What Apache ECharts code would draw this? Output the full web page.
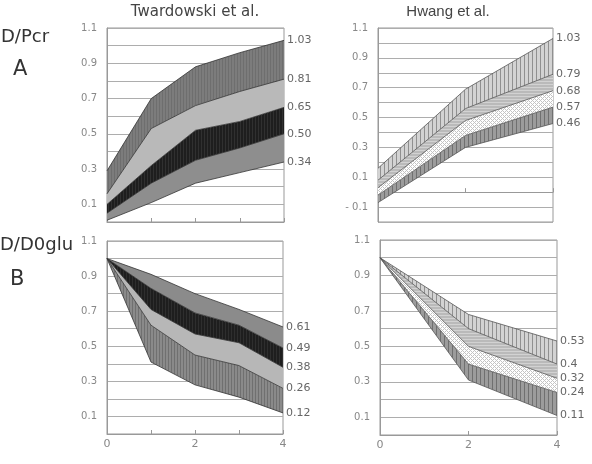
<!DOCTYPE html>
<html>
<head>
<meta charset="utf-8">
<script src="https://cdn.jsdelivr.net/npm/echarts/dist/echarts.min.js"></script>
<style>
  html, body { margin: 0; padding: 0; background: #fff; }
  #chart { width: 592px; height: 464px; }
</style>
</head>
<body>
<div id="chart"></div>
<script>
// x categories of the points
const twX = ["0", "1", "2", "3", "4"];
const hwX = ["0", "2", "4"];

// A: D/Pcr, lines from top to bottom
const twA1 = [0.29, 0.70, 0.88, 0.96, 1.03];
const twA2 = [0.16, 0.53, 0.66, 0.74, 0.81];
const twA3 = [0.10, 0.32, 0.52, 0.57, 0.65];
const twA4 = [0.05, 0.22, 0.35, 0.42, 0.50];
const twA5 = [0.01, 0.11, 0.22, 0.28, 0.34];
const twALabels = ["1.03", "0.81", "0.65", "0.50", "0.34"];

const hwA1 = [0.16, 0.69, 1.03];
const hwA2 = [0.08, 0.56, 0.79];
const hwA3 = [0.03, 0.48, 0.68];
const hwA4 = [-0.02, 0.38, 0.57];
const hwA5 = [-0.07, 0.30, 0.46];
const hwALabels = ["1.03", "0.79", "0.68", "0.57", "0.46"];

// B: D/D0glu
const twB1 = [1.0, 0.91, 0.80, 0.71, 0.61];
const twB2 = [1.0, 0.83, 0.69, 0.62, 0.49];
const twB3 = [1.0, 0.71, 0.57, 0.52, 0.38];
const twB4 = [1.0, 0.62, 0.45, 0.39, 0.26];
const twB5 = [1.0, 0.41, 0.28, 0.21, 0.12];
const twBLabels = ["0.61", "0.49", "0.38", "0.26", "0.12"];

const hwB1 = [1.0, 0.68, 0.53];
const hwB2 = [1.0, 0.60, 0.40];
const hwB3 = [1.0, 0.50, 0.32];
const hwB4 = [1.0, 0.40, 0.24];
const hwB5 = [1.0, 0.31, 0.11];
const hwBLabels = ["0.53", "0.4", "0.32", "0.24", "0.11"];

const font = "DejaVu Sans";

// small canvas patterns for the hatched bands
const stripes = (bg, fg, w, h, vertical) => {
  const c = document.createElement("canvas");
  c.width = w; c.height = h;
  const g = c.getContext("2d");
  g.fillStyle = bg; g.fillRect(0, 0, w, h);
  g.fillStyle = fg;
  if (vertical) g.fillRect(0, 0, 1, h); else g.fillRect(0, 0, w, 1);
  return { image: c, repeat: "repeat" };
};
const crossHatch = (bg, fg) => {
  const c = document.createElement("canvas");
  c.width = 4; c.height = 4;
  const g = c.getContext("2d");
  g.fillStyle = bg; g.fillRect(0, 0, 4, 4);
  g.fillStyle = fg;
  [[0, 0], [1, 1], [2, 2], [3, 3], [1, 3], [3, 1]].forEach(([x, y]) => g.fillRect(x, y, 1, 1));
  return { image: c, repeat: "repeat" };
};

const twTopFills = [
  stripes("#7c7c7c", "#6e6e6e", 3, 4, true),
  "#b9b9b9",
  stripes("#1e1e1e", "#303030", 3, 4, true),
  "#8e8e8e",
];
const twBottomFills = [
  "#8b8b8b",
  stripes("#1e1e1e", "#2e2e2e", 3, 4, true),
  "#b7b7b7",
  stripes("#8a8a8a", "#707070", 3, 4, true),
];
const hwFills = [
  stripes("#d3d3d3", "#909090", 4, 4, true),
  stripes("#bababa", "#d2d2d2", 4, 3, false),
  crossHatch("#ffffff", "#c4c4c4"),
  stripes("#9c9c9c", "#707070", 4, 4, true),
];

// stacked bands between consecutive lines + the edge lines with end labels
const panelSeries = (idx, lines, labels, fills, edgeColor) => {
  const stack = "p" + idx;
  const out = [];
  const n = lines.length;
  out.push({
    type: "line", xAxisIndex: idx, yAxisIndex: idx, stack, stackStrategy: "all",
    data: lines[n - 1], symbol: "none", lineStyle: { opacity: 0 }, z: 2, silent: true,
  });
  for (let k = n - 2; k >= 0; k--) {
    const diff = lines[k].map((v, i) => +(v - lines[k + 1][i]).toFixed(4));
    out.push({
      type: "line", xAxisIndex: idx, yAxisIndex: idx, stack, stackStrategy: "all",
      data: diff, symbol: "none", lineStyle: { opacity: 0 },
      areaStyle: { color: fills[k], opacity: 1 }, z: 2, silent: true,
    });
  }
  lines.forEach((ys, k) => {
    out.push({
      type: "line", xAxisIndex: idx, yAxisIndex: idx,
      data: ys, symbol: "none", z: 3, silent: true,
      lineStyle: { color: edgeColor, width: 0.8 },
      endLabel: {
        show: true, formatter: () => labels[k], distance: 3,
        color: "#666", fontSize: 11, fontFamily: font,
      },
    });
  });
  return out;
};

const yLabel = (v) => {
  const n = Math.round(v * 10);
  if (n % 2 === 0) return "";
  return n < 0 ? "- " + (Math.abs(n) / 10).toFixed(1) : (n / 10).toFixed(1);
};

const makeY = (idx, min) => ({
  type: "value", gridIndex: idx, min, max: 1.1, interval: 0.1,
  axisLine: { show: true, lineStyle: { color: "#999" } },
  axisTick: { show: false },
  axisLabel: { formatter: yLabel, color: "#888", fontSize: 10, fontFamily: font, margin: 10 },
  splitLine: { show: true, lineStyle: { color: "#adadad", width: 1 } },
});

const makeX = (idx, cats, showLabels, evenOnly) => ({
  type: "category", gridIndex: idx, data: cats, boundaryGap: false,
  axisLine: { show: true, lineStyle: { color: "#999" } },
  axisTick: { show: true, inside: true, length: 4, interval: 0, lineStyle: { color: "#999" } },
  axisLabel: {
    show: showLabels, interval: 0, color: "#888", fontSize: 11, fontFamily: font, margin: 5,
    formatter: (v) => (evenOnly && Number(v) % 2 !== 0 ? "" : v),
  },
  splitLine: { show: false },
});

const chart = echarts.init(document.getElementById("chart"));

const gridStyle = { show: true, borderColor: "#999", borderWidth: 1, containLabel: false };

chart.setOption({
  animation: false,
  backgroundColor: "#fff",
  grid: [
    { ...gridStyle, left: 107, top: 28, width: 177, height: 194 },
    { ...gridStyle, left: 378, top: 28, width: 175, height: 194 },
    { ...gridStyle, left: 107, top: 241, width: 176, height: 193 },
    { ...gridStyle, left: 380, top: 240, width: 177, height: 195 },
  ],
  xAxis: [makeX(0, twX, false, true), makeX(1, hwX, false, false), makeX(2, twX, true, true), makeX(3, hwX, true, false)],
  yAxis: [makeY(0, 0), makeY(1, -0.2), makeY(2, 0), makeY(3, 0)],
  graphic: [
    { type: "text", x: 195, y: 12, style: { text: "Twardowski et al.", align: "center", verticalAlign: "middle", font: "15px DejaVu Sans", fill: "#444" } },
    { type: "text", x: 448, y: 12, style: { text: "Hwang et al.", align: "center", verticalAlign: "middle", font: "15px Liberation Sans", fill: "#444" } },
    { type: "text", x: 1, y: 37, style: { text: "D/Pcr", verticalAlign: "middle", font: "18px DejaVu Sans", fill: "#333" } },
    { type: "text", x: 13, y: 70, style: { text: "A", verticalAlign: "middle", font: "21px DejaVu Sans", fill: "#333" } },
    { type: "text", x: 0, y: 245, style: { text: "D/D0glu", verticalAlign: "middle", font: "18px DejaVu Sans", fill: "#333" } },
    { type: "text", x: 10, y: 280, style: { text: "B", verticalAlign: "middle", font: "21px DejaVu Sans", fill: "#333" } },
  ],
  series: [
    ...panelSeries(0, [twA1, twA2, twA3, twA4, twA5], twALabels, twTopFills, "#333"),
    ...panelSeries(1, [hwA1, hwA2, hwA3, hwA4, hwA5], hwALabels, hwFills, "#555"),
    ...panelSeries(2, [twB1, twB2, twB3, twB4, twB5], twBLabels, twBottomFills, "#333"),
    ...panelSeries(3, [hwB1, hwB2, hwB3, hwB4, hwB5], hwBLabels, hwFills, "#555"),
  ],
});
</script>
</body>
</html>
